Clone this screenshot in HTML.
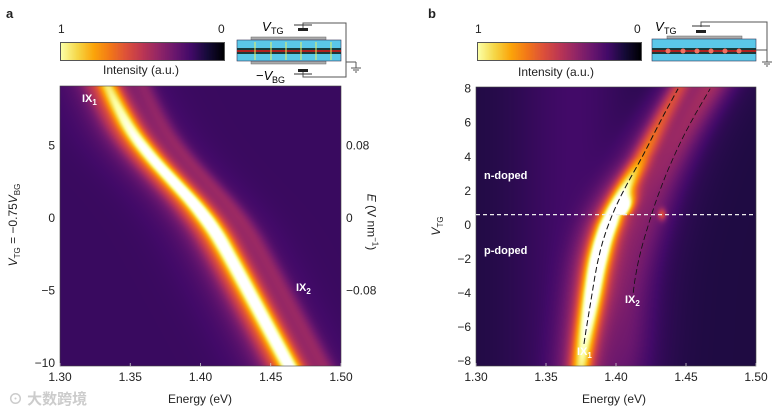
<!DOCTYPE html>
<html><head><meta charset="utf-8">
<style>
body{margin:0;background:#fff;width:775px;height:412px;overflow:hidden;position:relative;font-family:"Liberation Sans","Noto Sans CJK SC",sans-serif;color:#222}
.t{position:absolute;font-size:11px;white-space:nowrap}
.c{transform:translateX(-50%)}
canvas{position:absolute}
.w{color:#fff;font-weight:bold;font-size:11px;position:absolute;white-space:nowrap}
</style></head><body>
<div class="t" style="left:6px;top:6px;font-weight:bold;font-size:13px">a</div>
<div class="t" style="left:428px;top:6px;font-weight:bold;font-size:13px">b</div>

<canvas id="cbA" width="163" height="17" style="left:60px;top:42px;border:1px solid #555;box-sizing:border-box"></canvas>
<div class="t" style="left:58px;top:22px;font-size:12px">1</div>
<div class="t" style="left:218px;top:22px;font-size:12px">0</div>
<div class="t c" style="left:141px;top:63px;font-size:12px">Intensity (a.u.)</div>
<canvas id="cbB" width="163" height="17" style="left:477px;top:42px;border:1px solid #555;box-sizing:border-box"></canvas>
<div class="t" style="left:475px;top:22px;font-size:12px">1</div>
<div class="t" style="left:634px;top:22px;font-size:12px">0</div>
<div class="t c" style="left:556px;top:65px;font-size:12px">Intensity (a.u.)</div>

<svg style="position:absolute;left:230px;top:10px" width="140" height="75">
<polyline points="73,18 73,13 116,13 116,52" fill="none" stroke="#555" stroke-width="1"/>
<polyline points="73,62 73,67 116,67 116,52" fill="none" stroke="#555" stroke-width="1"/>
<line x1="64" y1="15" x2="82" y2="15" stroke="#333"/><rect x="68" y="18" width="10" height="3" fill="#222"/>
<line x1="64" y1="64" x2="82" y2="64" stroke="#333"/><rect x="68" y="59" width="10" height="3" fill="#222"/>
<rect x="21" y="27" width="75" height="3" fill="#aaa" stroke="#666" stroke-width=".5"/>
<rect x="21" y="51" width="75" height="3" fill="#aaa" stroke="#666" stroke-width=".5"/>
<rect x="7" y="30" width="104" height="21" fill="#5bc8e8" stroke="#335" stroke-width=".6"/>
<rect x="7" y="38" width="104" height="2" fill="#1a3a3a"/><rect x="7" y="40" width="104" height="2" fill="#b02020"/><rect x="7" y="42" width="104" height="2" fill="#1a3a3a"/>
<g stroke="#e8f060" stroke-width="1"><line x1="25" y1="50" x2="25" y2="32"/><line x1="41" y1="50" x2="41" y2="32"/><line x1="56" y1="50" x2="56" y2="32"/><line x1="71" y1="50" x2="71" y2="32"/><line x1="86" y1="50" x2="86" y2="32"/><line x1="101" y1="50" x2="101" y2="32"/></g>
<line x1="116" y1="52" x2="126" y2="52" stroke="#555"/><line x1="126" y1="52" x2="126" y2="58" stroke="#555"/>
<line x1="121" y1="58" x2="131" y2="58" stroke="#555"/><line x1="123" y1="60" x2="129" y2="60" stroke="#555"/><line x1="125" y1="62" x2="127" y2="62" stroke="#555"/>
<text x="32" y="21" font-size="13" font-style="italic" font-family="Liberation Sans">V</text><text x="41" y="24" font-size="9" font-family="Liberation Sans">TG</text>
<text x="26" y="70" font-size="13" font-family="Liberation Sans">−<tspan font-style="italic">V</tspan></text><text x="42" y="73" font-size="9" font-family="Liberation Sans">BG</text>
</svg>
<svg style="position:absolute;left:645px;top:10px" width="130" height="70">
<polyline points="56,17 56,12 122,12 122,52" fill="none" stroke="#555"/>
<line x1="47" y1="16" x2="65" y2="16" stroke="#333"/><rect x="51" y="20" width="10" height="3" fill="#222"/>
<rect x="22" y="26" width="75" height="3" fill="#aaa" stroke="#666" stroke-width=".5"/>
<rect x="7" y="29" width="104" height="22" fill="#5bc8e8" stroke="#335" stroke-width=".6"/>
<rect x="7" y="38" width="104" height="2" fill="#1a3a3a"/><rect x="7" y="40" width="104" height="2" fill="#b02020"/><rect x="7" y="42" width="104" height="2" fill="#1a3a3a"/>
<g fill="#f07060"><circle cx="23" cy="41" r="2.5"/><circle cx="38" cy="41" r="2.5"/><circle cx="52" cy="41" r="2.5"/><circle cx="66" cy="41" r="2.5"/><circle cx="80" cy="41" r="2.5"/><circle cx="94" cy="41" r="2.5"/></g>
<line x1="111" y1="40" x2="122" y2="40" stroke="#555"/>
<line x1="117" y1="52" x2="127" y2="52" stroke="#555"/><line x1="119" y1="54" x2="125" y2="54" stroke="#555"/><line x1="121" y1="56" x2="123" y2="56" stroke="#555"/>
<text x="10" y="21" font-size="13" font-style="italic" font-family="Liberation Sans">V</text><text x="19" y="24" font-size="9" font-family="Liberation Sans">TG</text>
</svg>

<canvas id="hmA" width="281" height="280" style="left:60px;top:86px"></canvas>
<canvas id="hmB" width="280" height="279" style="left:476px;top:87px"></canvas>
<svg id="ov" style="position:absolute;left:0;top:0" width="775" height="412"></svg>

<div class="t" style="left:14px;top:225px;transform:translate(-50%,-50%) rotate(-90deg);font-size:12px"><i>V</i><sub style="font-size:8px">TG</sub> = −0.75<i>V</i><sub style="font-size:8px">BG</sub></div>
<div class="t" style="left:372px;top:222px;transform:translate(-50%,-50%) rotate(90deg);font-size:12px"><i>E</i> (V nm<sup style="font-size:8px">−1</sup>)</div>
<div class="t" style="left:437px;top:226px;transform:translate(-50%,-50%) rotate(-90deg);font-size:12px"><i>V</i><sub style="font-size:8px">TG</sub></div>
<div class="t c" style="left:200px;top:392px;font-size:12px">Energy (eV)</div>
<div class="t c" style="left:614px;top:392px;font-size:12px">Energy (eV)</div>

<div class="w" style="left:82px;top:93px">IX<sub style="font-size:8px">1</sub></div>
<div class="w" style="left:296px;top:282px">IX<sub style="font-size:8px">2</sub></div>
<div class="w" style="left:484px;top:170px">n-doped</div>
<div class="w" style="left:484px;top:245px">p-doped</div>
<div class="w" style="left:625px;top:294px">IX<sub style="font-size:8px">2</sub></div>
<div class="w" style="left:577px;top:346px">IX<sub style="font-size:8px">1</sub></div>
<div class="t" style="left:8px;top:388px;color:#ccc;font-size:15px;font-weight:bold">⊙ 大数跨境</div>

<script>
const xTicks = [1.30, 1.35, 1.40, 1.45, 1.50];
const xTickLabels = ["1.30", "1.35", "1.40", "1.45", "1.50"];
const yTicksA = [5, 0, -5, -10];
const yTickLabelsA = ["5", "0", "−5", "−10"];
const rightTicksA = [0.08, 0, -0.08];
const rightTickLabelsA = ["0.08", "0", "−0.08"];
const yTicksB = [8, 6, 4, 2, 0, -2, -4, -6, -8];
const yTickLabelsB = ["8", "6", "4", "2", "0", "−2", "−4", "−6", "−8"];
const vA = [9.1, 7, 5, 2.5, 0, -2.5, -5, -7.5, -10.2];
const ix1A = [1.334, 1.344, 1.357, 1.381, 1.405, 1.420, 1.434, 1.448, 1.463];
const ampA = [0.75, 0.85, 0.95, 1.0, 1.05, 1.0, 1.0, 1.0, 1.0];
const ix2OffsetA = 0.026;
const vB = [-8.3, -7, -4, -2, 0, 2, 4, 6, 8.1];
const ix1B = [1.375, 1.377, 1.383, 1.387, 1.394, 1.405, 1.419, 1.431, 1.445];
const ix2B = [1.407, 1.409, 1.412, 1.416, 1.423, 1.431, 1.441, 1.453, 1.468];
const ampB1 = [0.75, 0.85, 1.1, 1.2, 1.2, 0.9, 0.55, 0.45, 0.4];
const ampB2 = [0.08, 0.1, 0.12, 0.14, 0.16, 0.18, 0.22, 0.26, 0.3];
const dopingBoundary = 0.6;

const A = {x0:60, x1:341, y0:86, y1:366, vmin:-10.2, vmax:9.1};
const B = {x0:476, x1:756, y0:87, y1:366, vmin:-8.3, vmax:8.1};
const xs = (P,e)=>P.x0+(e-1.30)/0.2*(P.x1-P.x0);
const ys = (P,v)=>P.y0+(P.vmax-v)/(P.vmax-P.vmin)*(P.y1-P.y0);
function interp(xa, ya, x){
  for (let i=0;i<xa.length-1;i++){
    const a=xa[i], b=xa[i+1];
    if ((x-a)*(x-b)<=0){const t=(x-a)/(b-a);return ya[i]+t*(ya[i+1]-ya[i]);}
  }
  const n=xa.length; const i = Math.abs(x-xa[0])<Math.abs(x-xa[n-1])?0:n-2;
  const t=(x-xa[i])/(xa[i+1]-xa[i]); return ya[i]+t*(ya[i+1]-ya[i]);
}
function sinterp(xa,ya,x,h){let s=0;for(let k=-4;k<=4;k++)s+=interp(xa,ya,x+k*h/4);return s/9;}
const stops=[[0,0,0,4],[.1,22,11,57],[.2,66,10,104],[.3,106,23,110],[.4,147,38,103],[.5,188,55,84],[.6,221,81,58],[.7,243,120,25],[.8,252,165,10],[.9,246,215,70],[1,252,255,164],[1.12,255,255,255]];
function cmap(t){
  t=Math.max(0,Math.min(1.12,t));
  for(let i=0;i<stops.length-1;i++){const a=stops[i],b=stops[i+1];
    if(t<=b[0]){const f=(t-a[0])/(b[0]-a[0]);return [a[1]+f*(b[1]-a[1]),a[2]+f*(b[2]-a[2]),a[3]+f*(b[3]-a[3])];}}
  return [255,255,255];
}
const g=(x,w)=>Math.exp(-x*x/(w*w));
function drawHM(id,P,fn){
  const c=document.getElementById(id),ctx=c.getContext('2d');
  const W=c.width,H=c.height,img=ctx.createImageData(W,H);
  for(let j=0;j<H;j++){const v=P.vmax-(j+0.5)/H*(P.vmax-P.vmin);
    for(let i=0;i<W;i++){const e=1.30+(i+0.5)/W*0.2;
      const col=cmap(fn(e,v));const k=(j*W+i)*4;
      img.data[k]=col[0];img.data[k+1]=col[1];img.data[k+2]=col[2];img.data[k+3]=255;}}
  ctx.putImageData(img,0,0);
}
drawHM('hmA',A,(e,v)=>{
  const r=sinterp(vA,ix1A,v,1.5), a=interp(vA,ampA,v);
  return 0.18 + a*(0.6*g(e-r,0.0075)+0.32*g(e-r,0.018)+0.1*g(e-r,0.035)) + 0.13*g(e-r-ix2OffsetA,0.007) + 0.07*g(e-r+0.013,0.006);
});
drawHM('hmB',B,(e,v)=>{
  const r1=sinterp(vB,ix1B,v,1), r2=sinterp(vB,ix2B,v,1), a1=interp(vB,ampB1,v), a2=interp(vB,ampB2,v);
  const base = 0.12 + 0.08*g(e-1.37,0.045);
  let s = base + a1*(0.65*g(e-r1,0.0075)+0.33*g(e-r1,0.017)) + a2*(0.8*g(e-r2,0.014)) + 0.06*g(e-r2,0.03);
  if (v>dopingBoundary && v<dopingBoundary+2) s += 0.5*g(e-r1-0.007,0.006)*g(v-dopingBoundary-0.4,0.7);
  s += 0.3*g(e-1.433,0.003)*g(v-dopingBoundary,0.35);
  return s;
});
function drawCB(id){const c=document.getElementById(id),ctx=c.getContext('2d');
  for(let i=0;i<c.width;i++){const col=cmap(1-i/(c.width-1));ctx.fillStyle=`rgb(${col[0]|0},${col[1]|0},${col[2]|0})`;ctx.fillRect(i,0,1,c.height);}}
drawCB('cbA');drawCB('cbB');

const ov=document.getElementById('ov'), NS='http://www.w3.org/2000/svg';
function el(tag,attrs,txt){const e=document.createElementNS(NS,tag);for(const k in attrs)e.setAttribute(k,attrs[k]);if(txt!==undefined)e.textContent=txt;ov.appendChild(e);return e;}
function text(x,y,s,anchor){return el('text',{x:x,y:y,'font-size':12,'font-family':'Liberation Sans, sans-serif','text-anchor':anchor,fill:'#222'},s);}
[A,B].forEach((P,pi)=>{
  const fr=el('rect',{x:P.x0,y:P.y0,width:P.x1-P.x0,height:P.y1-P.y0,fill:'none',stroke:'#444','stroke-width':0.6});
  
  
  xTicks.forEach((t,i)=>{const x=xs(P,t);
    const tk=el('line',{x1:x,y1:P.y1,x2:x,y2:P.y1-3,stroke:'#ccc','stroke-width':0.8});
    
    
    const lb=text(x,P.y1+15,xTickLabels[i],'middle');
    
    
  });
});
yTicksA.forEach((t,i)=>{const lb=text(A.x0-5,ys(A,t)+4,yTickLabelsA[i],'end');
  
  });
rightTicksA.forEach((t,i)=>{const v=t/0.08*5;const lb=text(A.x1+5,ys(A,v)+4,rightTickLabelsA[i],'start');
  
  });
yTicksB.forEach((t,i)=>{const lb=text(B.x0-5,ys(B,t)+4,yTickLabelsB[i],'end');
  
  });
function path(P,vs,es,vlo,vhi){let d='';for(let v=vlo;v<=vhi+1e-9;v+=0.25){const x=xs(P,sinterp(vs,es,v,1)),y=ys(P,v);d+=(d?'L':'M')+x.toFixed(1)+','+y.toFixed(1);}return d;}
const f1=el('path',{d:path(B,vB,ix1B,-7,8.1),fill:'none',stroke:'#111','stroke-width':1,'stroke-dasharray':'6,3'});


const f2=el('path',{d:path(B,vB,ix2B,-4,8.1),fill:'none',stroke:'#111','stroke-width':0.8,'stroke-dasharray':'6,3'});


const db=el('line',{x1:B.x0,x2:B.x1,y1:ys(B,dopingBoundary),y2:ys(B,dopingBoundary),stroke:'#eee','stroke-width':1.2,'stroke-dasharray':'4,3'});


</script>
</body></html>
